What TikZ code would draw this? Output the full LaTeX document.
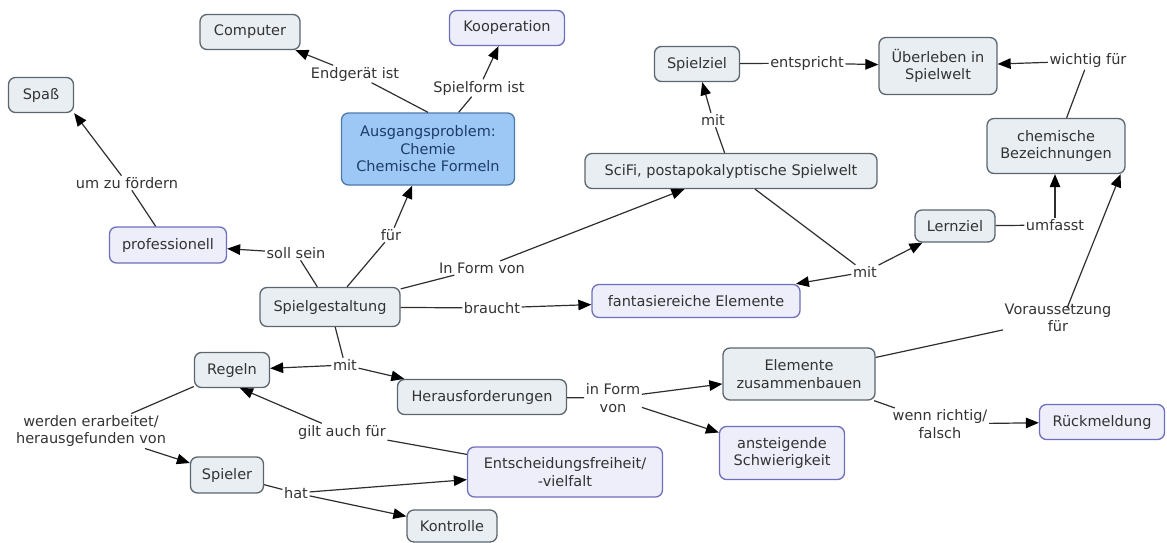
\documentclass[tikz,border=0pt]{standalone}
\usepackage{fontspec}
\setmainfont{DejaVu Sans}
\usetikzlibrary{arrows.meta}
\definecolor{cfill}{HTML}{E9EEF2}
\definecolor{cborder}{HTML}{5C666E}
\definecolor{bfill}{HTML}{EEEEFA}
\definecolor{bborder}{HTML}{6E6EBE}
\definecolor{sfill}{HTML}{9DC8F5}
\definecolor{sborder}{HTML}{4C7AAE}
\definecolor{stext}{HTML}{1E3C68}
\definecolor{txtgray}{HTML}{333333}
\definecolor{linegray}{HTML}{2E2E2E}

\begin{document}
\begin{tikzpicture}[
x=1pt, y=-1pt,
every node/.style={font=\fontsize{14.5}{17.5}\selectfont, text=txtgray},
concept/.style={draw=cborder, fill=cfill, rounded corners=7pt, line width=1.3pt, align=center, inner sep=2pt},
bluebox/.style={concept, draw=bborder, fill=bfill},
startbox/.style={concept, draw=sborder, fill=sfill, text=stext},
link/.style={align=center, inner sep=1.5pt},
conn/.style={draw=linegray, line width=1.2pt},
>={Triangle[length=13pt,width=10.5pt,color=black]}
]
\useasboundingbox (0,0) rectangle (1167,543);

% concepts
\node[concept, minimum width=100, minimum height=35] (comp) at (250,32) {Computer};
\node[bluebox, minimum width=115, minimum height=35] (koop) at (507,28) {Kooperation};
\node[concept, minimum width=65, minimum height=35] (spass) at (41,95) {Spaß};
\node[startbox, minimum width=173, minimum height=72] (ausg) at (428,149) {Ausgangsproblem:\\Chemie\\Chemische Formeln};
\node[concept, minimum width=85, minimum height=35] (spielz) at (697,64) {Spielziel};
\node[concept, minimum width=118, minimum height=57] (ueber) at (938,66) {Überleben in\\Spielwelt};
\node[concept, minimum width=138, minimum height=55] (chem) at (1056,146) {chemische\\Bezeichnungen};
\node[concept, minimum width=292, minimum height=35] (scifi) at (731,171) {SciFi, postapokalyptische Spielwelt};
\node[bluebox, minimum width=117, minimum height=36] (prof) at (168,245) {professionell};
\node[concept, minimum width=140, minimum height=39] (spielg) at (330,307) {Spielgestaltung};
\node[bluebox, minimum width=208, minimum height=33] (fant) at (696,301) {fantasiereiche Elemente};
\node[concept, minimum width=80, minimum height=32] (lern) at (955,226) {Lernziel};
\node[concept, minimum width=75, minimum height=35] (regeln) at (232,370) {Regeln};
\node[concept, minimum width=169, minimum height=35] (heraus) at (482,397) {Herausforderungen};
\node[concept, minimum width=152, minimum height=52] (elem) at (799,374) {Elemente\\zusammenbauen};
\node[bluebox, minimum width=125, minimum height=53] (anst) at (782,453) {ansteigende\\Schwierigkeit};
\node[bluebox, minimum width=125, minimum height=35] (rueck) at (1102,422) {Rückmeldung};
\node[concept, minimum width=73, minimum height=36] (spieler) at (227,475) {Spieler};
\node[bluebox, minimum width=195, minimum height=50] (entsch) at (565,472) {Entscheidungsfreiheit/\\-vielfalt};
\node[concept, minimum width=90, minimum height=32] (kontr) at (452,526) {Kontrolle};

% linking phrases
\node[link] (endg) at (355,74) {Endgerät ist};
\node[link] (spform) at (479,88) {Spielform ist};
\node[link] (umzu) at (127,183) {um zu fördern};
\node[link] (soll) at (296,253) {soll sein};
\node[link] (fuer) at (391,235) {für};
\node[link] (inform) at (482,268) {In Form von};
\node[link] (braucht) at (492,308) {braucht};
\node[link] (mitregel) at (345,365) {mit};
\node[link] (werden) at (91,431) {werden erarbeitet/\\herausgefunden von};
\node[link] (hat) at (296,493) {hat};
\node[link] (gilt) at (342,432) {gilt auch für};
\node[link] (mitziel) at (713,120) {mit};
\node[link] (entspr) at (807,63) {entspricht};
\node[link] (wichtig) at (1088,61) {wichtig für};
\node[link] (mitlern) at (865,272) {mit};
\node[link] (umf) at (1055,225) {umfasst};
\node[link] (vor) at (1058,318) {Voraussetzung\\für};
\node[link] (informb) at (613,398) {in Form\\von};
\node[link] (wenn) at (940,424) {wenn richtig/\\falsch};

% connectors
\draw[conn] (ausg.north) -- (endg);
\draw[conn,->] (endg) -- (comp);
\draw[conn] (ausg) -- (spform);
\draw[conn,->] (spform) -- (koop);
\draw[conn] (prof) -- (umzu);
\draw[conn,->] (umzu) -- (spass.south east);
\draw[conn] (spielg) -- (soll);
\draw[conn,->] (soll) -- (prof);
\draw[conn] (spielg) -- (fuer);
\draw[conn,->] (fuer) -- (ausg);
\draw[conn] (spielg) -- (inform);
\draw[conn,->] (inform) -- (scifi);
\draw[conn] (spielg) -- (braucht);
\draw[conn,->] (braucht) -- (fant);
\draw[conn] (spielg) -- (mitregel);
\draw[conn,->] (mitregel) -- (regeln);
\draw[conn,->] (mitregel) -- (heraus);
\draw[conn] (regeln) -- (werden);
\draw[conn,->] (werden) -- (spieler);
\draw[conn] (spieler) -- (hat);
\draw[conn,->] (hat) -- (entsch);
\draw[conn,->] (hat) -- (kontr);
\draw[conn] (entsch) -- (gilt);
\draw[conn,->] (gilt) -- ([xshift=8pt]regeln.south);
\draw[conn] (scifi) -- (mitziel);
\draw[conn,->] (mitziel) -- (spielz);
\draw[conn] (spielz) -- (entspr);
\draw[conn,->] (entspr) -- (ueber);
\draw[conn] (chem) -- (wichtig);
\draw[conn,->] (wichtig) -- (ueber);
\draw[conn] (scifi) -- (mitlern);
\draw[conn,->] (mitlern) -- (fant);
\draw[conn,->] (mitlern) -- (lern);
\draw[conn] (lern) -- (umf);
\draw[conn,->] (umf) -- (umf |- chem.south);
\draw[conn] (elem) -- (vor);
\draw[conn,->] ([xshift=9pt,yshift=-6pt]vor.north) -- ([xshift=-5pt]chem.south east);
\draw[conn] (heraus) -- (informb);
\draw[conn,->] (informb) -- (elem);
\draw[conn,->] (informb) -- (anst);
\draw[conn] (elem) -- (wenn);
\draw[conn,->] (wenn) -- (rueck);
\end{tikzpicture}
\end{document}
